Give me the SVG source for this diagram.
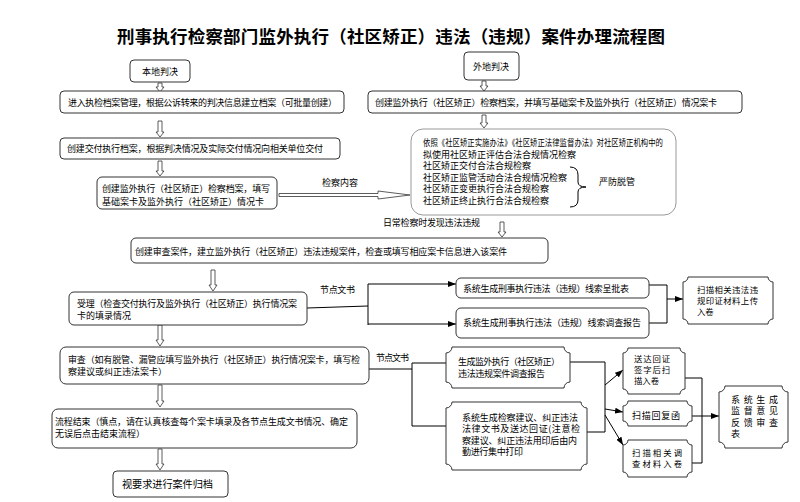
<svg xmlns="http://www.w3.org/2000/svg" width="800" height="502" viewBox="0 0 800 502">
<defs>
<style>
.box{fill:#fff;stroke:#333;stroke-width:1}
.big{fill:#fff;stroke:#999;stroke-width:1}
.t{font-family:"Noto Sans CJK SC","Liberation Sans",sans-serif;font-size:9px;fill:#000}
.s{font-size:8.4px}
.ha{fill:#fff;stroke:#333;stroke-width:0.8}
.ln{fill:none;stroke:#000;stroke-width:1}
.ttl{font-family:"Liberation Serif","Noto Sans CJK SC",serif;font-size:17.5px;font-weight:bold;fill:#000}
</style>
<marker id="ah" viewBox="0 0 8 6" refX="8" refY="3" markerWidth="8" markerHeight="6" markerUnits="userSpaceOnUse" orient="auto"><path d="M0,0 L8,3 L0,6z" fill="#000"/></marker>
</defs>
<rect width="800" height="502" fill="#fff"/>
<text class="ttl" x="391" y="43" text-anchor="middle" textLength="548">刑事执行检察部门监外执行（社区矫正）违法（违规）案件办理流程图</text>

<g id="connectors">
<polygon class="ha" points="158,83 162,83 162,87 164,87 160,92 156,87 158,87"/>
<polygon class="ha" points="482,81 486,81 486,86 488,86 484,91 480,86 482,86"/>
<polygon class="ha" points="482,115 486,115 486,123 488,123 484,128 480,123 482,123"/>
<polygon class="ha" points="158,121 162,121 162,132 164,132 160,137 156,132 158,132"/>
<polygon class="ha" points="158,161 162,161 162,171 164,171 160,176 156,171 158,171"/>
<polygon class="ha" points="279,193.5 378,193.5 378,191 410,195 378,199 378,196.5 279,196.5"/>
<polygon class="ha" points="500,222 504,222 504,232 506,232 502,237 498,232 500,232"/>
<polygon class="ha" points="211,270 215,270 215,285 217,285 213,291 209,285 211,285"/>
<polygon class="ha" points="158,325 162,325 162,340 164,340 160,346 156,340 158,340"/>
<polygon class="ha" points="158,385 162,385 162,401 164,401 160,407 156,401 158,401"/>
<polygon class="ha" points="158,449 162,449 162,464 164,464 160,470 156,464 158,464"/>
<text class="t" x="322" y="186" textLength="36">检察内容</text>
<text class="t" x="383" y="226" textLength="97">日常检察时发现违法违规</text>
<path class="ln" d="M307,308 L368,306 M368,284 V325"/>
<path class="ln" d="M368,284 H456" marker-end="url(#ah)"/>
<path class="ln" d="M368,324 H456" marker-end="url(#ah)"/>
<text class="t" x="320" y="293" textLength="35">节点文书</text>
<path class="ln" d="M649,285 H667 V323 H649"/>
<path class="ln" d="M667,299 H683" marker-end="url(#ah)"/>
<path class="ln" d="M369,369 H412 M412,363 V426 M412,363 H446 M412,426 H446"/>
<text class="t" x="376" y="361" textLength="33">节点文书</text>
<path class="ln" d="M570,362 H605 V432 H587"/>
<path class="ln" d="M605,385 L623,370" marker-end="url(#ah)"/>
<path class="ln" d="M605,409 L623,412" marker-end="url(#ah)"/>
<path class="ln" d="M605,415 L623,445" marker-end="url(#ah)"/>
<path class="ln" d="M685,378 H702 V463 H692"/>
<path class="ln" d="M692,416 H719" marker-end="url(#ah)"/>
</g>

<g id="n-local"><rect class="box" x="130" y="60" width="60" height="22" rx="4"/><text class="t" x="160" y="74.5" text-anchor="middle">本地判决</text></g>
<g id="n-remote"><rect class="box" x="464" y="52" width="55" height="28" rx="4"/><text class="t" x="491" y="69.5" text-anchor="middle">外地判决</text></g>
<g id="n-archive"><rect class="box" x="60" y="91" width="284" height="22" rx="4"/><text class="t" x="68" y="105.5" textLength="269">进入执检档案管理，根据公诉转来的判决信息建立档案（可批量创建）</text></g>
<g id="n-remote-archive"><rect class="box" x="368" y="91" width="374" height="22" rx="4"/><text class="t" x="375" y="105.5" textLength="342">创建监外执行（社区矫正）检察档案，并填写基础案卡及监外执行（社区矫正）情况案卡</text></g>
<g id="n-deliver"><rect class="box" x="60" y="138" width="280" height="21" rx="4"/><text class="t" x="67" y="152" textLength="256">创建交付执行档案，根据判决情况及实际交付情况向相关单位交付</text></g>
<g id="n-create"><rect class="box" x="97" y="177" width="180" height="32" rx="5"/><text class="t" x="102" y="191.5" textLength="168">创建监外执行（社区矫正）检察档案，填写</text><text class="t" x="102" y="204.5" textLength="162">基础案卡及监外执行（社区矫正）情况卡</text></g>
<g id="n-content"><rect class="big" x="411" y="129" width="265" height="86" rx="12"/>
<text class="t" x="423" y="146" textLength="240" lengthAdjust="spacingAndGlyphs">依照《社区矫正实施办法》《社区矫正法律监督办法》对社区矫正机构中的</text>
<text class="t" x="423" y="157.5">拟使用社区矫正评估合法合规情况检察</text>
<text class="t" x="423" y="169">社区矫正交付合法合规检察</text>
<text class="t" x="423" y="180.5">社区矫正监管活动合法合规情况检察</text>
<text class="t" x="423" y="192">社区矫正变更执行合法合规检察</text>
<text class="t" x="423" y="203.5">社区矫正终止执行合法合规检察</text>
<path class="ln" d="M570,167 Q578,167 578,175 L578,182 Q578,187 586,187 Q578,187 578,192 L578,200 Q578,207 570,207"/>
<text class="t" x="599" y="184.5" textLength="36">严防脱管</text>
</g>
<g id="n-case"><rect class="box" x="131" y="238" width="417" height="25" rx="5"/><text class="t" x="135" y="254.5" textLength="372">创建审查案件，建立监外执行（社区矫正）违法违规案件，检查或填写相应案卡信息进入该案件</text></g>
<g id="n-accept"><rect class="box" x="69" y="292" width="238" height="33" rx="5"/><text class="t" x="77" y="307" textLength="220">受理（检查交付执行及监外执行（社区矫正）执行情况案</text><text class="t" x="77" y="318.5">卡的填录情况</text></g>
<g id="n-clue1"><rect class="box" x="456" y="278" width="193" height="20" rx="5"/><text class="t" x="463" y="291.5" textLength="166">系统生成刑事执行违法（违规）线索呈批表</text></g>
<g id="n-clue2"><rect class="box" x="456" y="308" width="193" height="30" rx="5"/><text class="t" x="463" y="325.5" textLength="178">系统生成刑事执行违法（违规）线索调查报告</text></g>
<g id="n-scan1"><path class="box" d="M688,277 H768 A5 5 0 0 0 773,282 V319 A5 5 0 0 0 768,324 H688 A5 5 0 0 0 683,319 V282 A5 5 0 0 0 688,277 Z"/><text class="t s" x="697" y="292.5" textLength="61">扫描相关违法违</text><text class="t s" x="697" y="303.5" textLength="61">规印证材料上传</text><text class="t s" x="697" y="314.5">入卷</text></g>
<g id="n-review"><rect class="box" x="60" y="347" width="309" height="37" rx="6"/><text class="t" x="68" y="363" textLength="292">审查（如有脱管、漏管应填写监外执行（社区矫正）执行情况案卡，填写检</text><text class="t" x="68" y="374.5">察建议或纠正违法案卡）</text></g>
<g id="n-report"><path class="box" d="M452,347 H564 A6 6 0 0 0 570,353 V382 A6 6 0 0 0 564,388 H452 A6 6 0 0 0 446,382 V353 A6 6 0 0 0 452,347 Z"/><text class="t" x="458" y="365" textLength="102">生成监外执行（社区矫正）</text><text class="t" x="458" y="376.5" textLength="87">违法违规案件调查报告</text></g>
<g id="n-docs"><path class="box" d="M452,402 H581 A6 6 0 0 0 587,408 V464 A6 6 0 0 0 581,470 H452 A6 6 0 0 0 446,464 V408 A6 6 0 0 0 452,402 Z"/>
<text class="t" x="462" y="420.5" textLength="116">系统生成检察建议、纠正违法</text>
<text class="t" x="462" y="432" textLength="118">法律文书及送达回证(注意检</text>
<text class="t" x="462" y="443.5" textLength="115">察建议、纠正违法用印后由内</text>
<text class="t" x="462" y="455" textLength="61">勤进行集中打印</text></g>
<g id="n-receipt"><path class="box" d="M628,348 H680 A5 5 0 0 0 685,353 V389 A5 5 0 0 0 680,394 H628 A5 5 0 0 0 623,389 V353 A5 5 0 0 0 628,348 Z"/><text class="t s" x="634" y="362" textLength="36">送达回证</text><text class="t s" x="634" y="373" textLength="36">签字后扫</text><text class="t s" x="634" y="384">描入卷</text></g>
<g id="n-reply"><path class="box" d="M628,401 H687 A5 5 0 0 0 692,406 V421 A5 5 0 0 0 687,426 H628 A5 5 0 0 0 623,421 V406 A5 5 0 0 0 628,401 Z"/><text class="t" x="632" y="418.5" textLength="48">扫描回复函</text></g>
<g id="n-material"><path class="box" d="M628,440 H687 A5 5 0 0 0 692,445 V472 A5 5 0 0 0 687,477 H628 A5 5 0 0 0 623,472 V445 A5 5 0 0 0 628,440 Z"/><text class="t s" x="632" y="456" textLength="50">扫描相关调</text><text class="t s" x="632" y="467" textLength="50">查材料入卷</text></g>
<g id="n-feedback"><path class="box" d="M725,386 H782 A6 6 0 0 0 788,392 V442 A6 6 0 0 0 782,448 H725 A6 6 0 0 0 719,442 V392 A6 6 0 0 0 725,386 Z"/>
<text class="t" x="731" y="402.5" textLength="47">系统生成</text>
<text class="t" x="731" y="414" textLength="47">监督意见</text>
<text class="t" x="731" y="425.5" textLength="47">反馈审查</text>
<text class="t" x="731" y="437">表</text></g>
<g id="n-end"><rect class="box" x="52" y="409" width="305" height="39" rx="6"/><text class="t" x="55" y="424.5" textLength="293">流程结束（慎点，请在认真核查每个案卡填录及各节点生成文书情况、确定</text><text class="t" x="55" y="436.5">无误后点击结束流程）</text></g>
<g id="n-file"><rect class="box" x="113" y="471" width="115" height="26" rx="4"/><text class="t" x="122" y="488" style="font-size:10.2px" textLength="91">视要求进行案件归档</text></g>
</svg>
